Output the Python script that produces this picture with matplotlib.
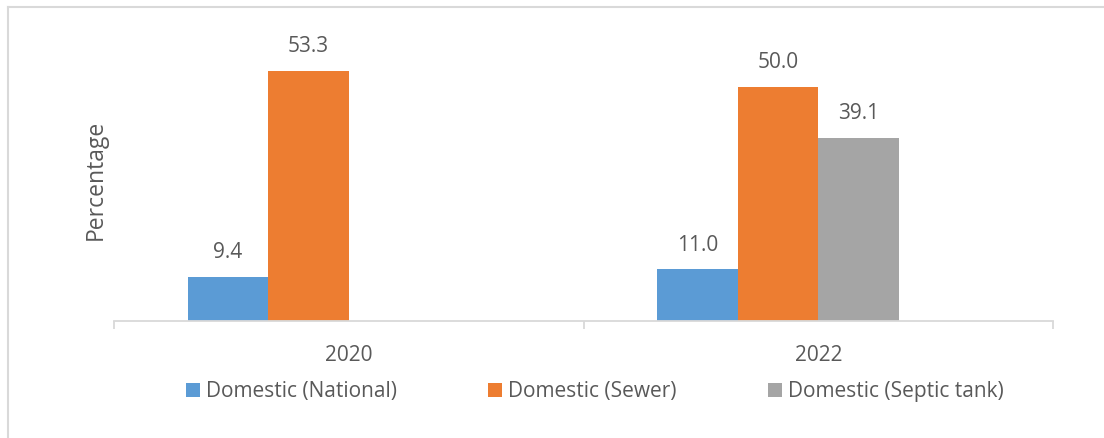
import matplotlib.pyplot as plt
import numpy as np
from matplotlib.lines import Line2D

plt.rcParams['font.family'] = ['Open Sans', 'DejaVu Sans']

# data
years = ['2020', '2022']
national = [9.4, 11.0]
sewer = [53.3, 50.0]
septic = [None, 39.1]
series_names = ['Domestic (National)', 'Domestic (Sewer)', 'Domestic (Septic tank)']
colors = ['#5b9bd5', '#ed7d31', '#a5a5a5']
txt = '#595959'

fig = plt.figure(figsize=(11.04, 4.38), dpi=100)
ax = fig.add_axes([114 / 1104, 1 - 321 / 438, (1053 - 114) / 1104, (321 - 39.6) / 438])

x = np.arange(len(years))
w = 80.5 / 469.3
offsets = [-1.5 * w, -0.5 * w, 0.5 * w]
for vals, off, c, name in zip([national, sewer, septic], offsets, colors, series_names):
    xs = [xi + off for xi, v in zip(x, vals) if v is not None]
    vs = [v for v in vals if v is not None]
    bars = ax.bar(xs, vs, width=w, color=c, label=name)
    for b, v in zip(bars, vs):
        ax.annotate(f'{v:.1f}', (b.get_x() + b.get_width() / 2, v), xytext=(0, 10),
                    textcoords='offset points', ha='center', va='bottom',
                    fontsize=15, color=txt)

ax.set_xlim(-0.5, 1.5)
ax.set_ylim(0, 60)
for s in ['top', 'right', 'left']:
    ax.spines[s].set_visible(False)
ax.spines['bottom'].set_color('#d9d9d9')
ax.spines['bottom'].set_linewidth(1.3)
ax.set_yticks([])
ax.set_xticks([-0.5, 0.5, 1.5], minor=False)
ax.set_xticklabels(['', '', ''])
ax.tick_params(axis='x', which='major', length=6, color='#d9d9d9', width=1.3)
ax.set_xticks(x, minor=True)
ax.set_xticklabels(years, minor=True, fontsize=15, color=txt)
ax.tick_params(axis='x', which='minor', length=0, pad=17)

# y axis title
fig.text(96 / 1104, 1 - 180 / 438, 'Percentage', rotation=90, ha='center', va='center',
         fontsize=16.5, color=txt)

fig.legend(loc='center', bbox_to_anchor=(595 / 1104, 1 - 392 / 438), ncol=3, frameon=False,
           fontsize=15, labelcolor=txt, handlelength=0.65, handleheight=0.65,
           handletextpad=0.3, columnspacing=4.4)

# chart border (left and top edges visible)
fig.add_artist(Line2D([7.5 / 1104, 7.5 / 1104], [0, 1 - 6.5 / 438], color='#d9d9d9', lw=1.5))
fig.add_artist(Line2D([7.5 / 1104, 1], [1 - 6.5 / 438, 1 - 6.5 / 438], color='#d9d9d9', lw=1.5))

fig.savefig('out.png', dpi=100)
